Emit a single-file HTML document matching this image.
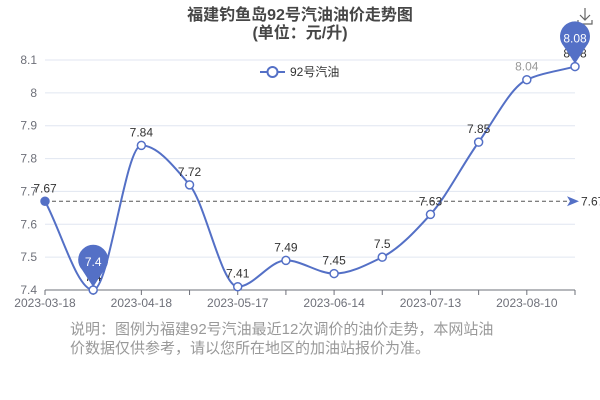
<!DOCTYPE html>
<html><head><meta charset="utf-8"><style>
body{margin:0;background:#fff;font-family:"Liberation Sans","Noto Sans CJK SC",sans-serif}
#wrap{position:relative;width:600px;height:400px;overflow:hidden}
</style></head><body>
<div id="wrap">
<svg id="chart" width="600" height="400" style="position:absolute;left:0;top:0"></svg>
</div>
<script>
const categories=["2023-03-18","2023-04-01","2023-04-18","2023-05-04","2023-05-17","2023-05-31","2023-06-14","2023-06-28","2023-07-13","2023-07-27","2023-08-10","2023-08-24"];
const prices=[7.67,7.4,7.84,7.72,7.41,7.49,7.45,7.5,7.63,7.85,8.04,8.08];
const yTicks=[7.4,7.5,7.6,7.7,7.8,7.9,8,8.1];
const avgValue=7.67;

const NS="http://www.w3.org/2000/svg";
const svg=document.getElementById('chart');
const L=45,R=575,T=60,B=290,yMin=7.4,yMax=8.1;
const xs=i=>L+(R-L)*i/(categories.length-1);
const ys=v=>B-(v-yMin)/(yMax-yMin)*(B-T);
function mk(tag,attrs,parent){const e=document.createElementNS(NS,tag);for(const k in attrs)e.setAttribute(k,attrs[k]);(parent||svg).appendChild(e);return e;}
function txt(s,attrs){const e=mk('text',attrs);e.textContent=s;return e;}

// title
let t=txt('福建钓鱼岛92号汽油油价走势图',{x:300,y:20,'text-anchor':'middle','font-size':16,'font-weight':'bold',fill:'#464646'});

t=txt('(单位：元/升)',{x:300,y:38,'text-anchor':'middle','font-size':16,'font-weight':'bold',fill:'#464646'});


// download icon
let dl=mk('path',{d:'M585 8 V20 M580 15 L585 20 L590 15 M578 20 V24 H592 V20',fill:'none',stroke:'#666','stroke-width':1.2});


// legend
const lg=mk('g',{});

mk('line',{x1:260,y1:72,x2:285,y2:72,stroke:'#5470c6','stroke-width':2},lg);
mk('circle',{cx:272.5,cy:72,r:5,fill:'#fff',stroke:'#5470c6','stroke-width':2},lg);
let lt=mk('text',{x:290,y:76,'font-size':12,fill:'#333'},lg);lt.textContent='92号汽油';

// grid and y ticks
yTicks.forEach(v=>{
  const g=mk('line',{x1:L,x2:R,y1:ys(v),y2:ys(v),stroke:'#e0e6f1','stroke-width':1});
  
  const l=txt(String(v),{x:37,y:ys(v)+4,'text-anchor':'end','font-size':12,fill:'#6e7079'});
  
});
const ax=mk('line',{x1:L,x2:R,y1:B,y2:B,stroke:'#6e7079','stroke-width':1});

categories.forEach((c,i)=>{
  const tk=mk('line',{x1:xs(i),x2:xs(i),y1:B,y2:B+5,stroke:'#6e7079'});
  
  if(i%2===0){
    const l=txt(c,{x:xs(i),y:B+17,'text-anchor':'middle','font-size':12,fill:'#6e7079'});
    
  }
});

// average markline
const ay=ys(avgValue);
const ml=mk('line',{x1:L,x2:R-8,y1:ay,y2:ay,stroke:'#555','stroke-width':1,'stroke-dasharray':'4,3'});

const ar=mk('path',{d:`M${R-8} ${ay-5} L${R+4} ${ay} L${R-8} ${ay+5} L${R-5} ${ay} Z`,fill:'#5470c6'});

const al=txt(String(avgValue),{x:R+6,y:ay+4,'font-size':12,fill:'#333'});


// smooth monotone line
const P=prices.map((v,i)=>[xs(i),ys(v)]);
const n=P.length,d=[],m=[];
for(let i=0;i<n-1;i++)d.push((P[i+1][1]-P[i][1])/(P[i+1][0]-P[i][0]));
for(let i=0;i<n;i++){
  if(i===0)m.push(d[0]);else if(i===n-1)m.push(d[n-2]);
  else m.push(d[i-1]*d[i]<=0?0:2/(1/d[i-1]+1/d[i]));
}
let path=`M${P[0][0]} ${P[0][1]}`;
for(let i=0;i<n-1;i++){
  const h=(P[i+1][0]-P[i][0])/3;
  path+=` C${P[i][0]+h} ${P[i][1]+m[i]*h} ${P[i+1][0]-h} ${P[i+1][1]-m[i+1]*h} ${P[i+1][0]} ${P[i+1][1]}`;
}
const ln=mk('path',{d:path,fill:'none',stroke:'#5470c6','stroke-width':2});


prices.forEach((v,i)=>{
  const c=mk('circle',{cx:xs(i),cy:ys(v),r:i===0?4:4,fill:i===0?'#5470c6':'#fff',stroke:'#5470c6','stroke-width':1.5});
  
  const l=txt(String(v),{x:xs(i),y:ys(v)-9,'text-anchor':'middle','font-size':12,fill:i===10?'#999':'#333'});
  
});

// markpoints min/max
function pin(i,label){
  const x=xs(i),y=ys(prices[i]);
  const g=mk('g',{});
  
  mk('path',{d:`M${x} ${y-3} L${x-11} ${y-20} A15 15 0 1 1 ${x+11} ${y-20} Z`,fill:'#5470c6'},g);
  const tt=mk('text',{x:x,y:y-24,'text-anchor':'middle','font-size':12,fill:'#fff'},g);
  tt.textContent=String(prices[i]);
}
let mi=prices.indexOf(Math.min(...prices)),ma=prices.indexOf(Math.max(...prices));
pin(mi,'min-marker');pin(ma,'max-marker');

// footer note
const f1=txt('说明：图例为福建92号汽油最近12次调价的油价走势，本网站油',{x:70,y:334,'font-size':15,fill:'#999'});

const f2=txt('价数据仅供参考，请以您所在地区的加油站报价为准。',{x:70,y:353,'font-size':15,fill:'#999'});

</script>
</body></html>
